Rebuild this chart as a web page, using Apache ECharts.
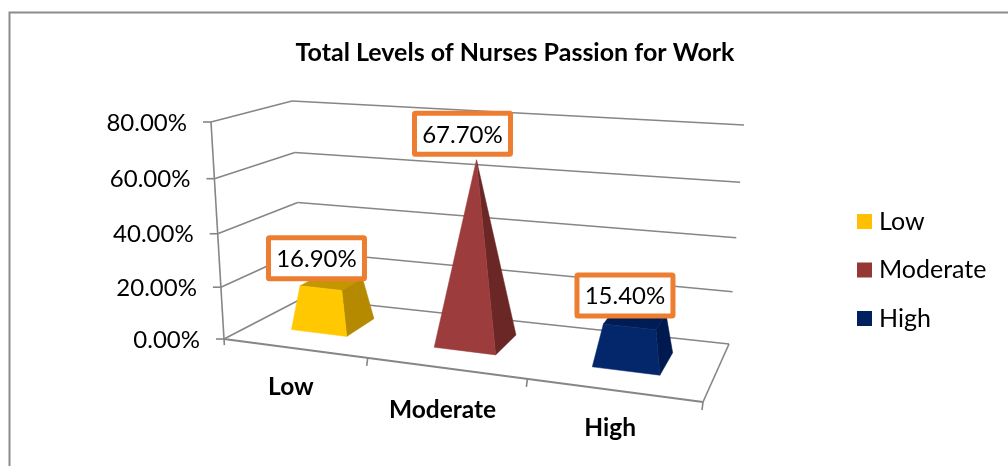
<!DOCTYPE html>
<html>
<head>
<meta charset="utf-8">
<style>
  html, body { margin: 0; padding: 0; background: #fff; }
  #main { width: 1008px; height: 466px; }
</style>
<script src="https://cdn.jsdelivr.net/npm/echarts@6/dist/echarts.min.js"></script>
</head>
<body>
<div id="main"></div>
<script>
const categories = ['Low', 'Moderate', 'High']
const values = [16.9, 67.7, 15.4]
const yTicks = [0, 20, 40, 60, 80]

const fontName = 'Lato'
const gridColor = '#868686'
const faceColors = [
  { legend: '#ffc000', front: '#ffc800', side: '#b58a00', top: '#c49600' },
  { legend: '#953735', front: '#9c3c3c', side: '#6b2626', top: '#7a2c2c' },
  { legend: '#002060', front: '#04266b', side: '#001a4f', top: '#001c55' }
]
// nudges the value label off the top of each shape
const labelShift = [[-15, -24], [-14, -26], [-10, -23.5]]
// how far under the floor edge each category name sits
const nameDrop = [39, 42, 38]

// corners of the tilted floor, and the direction "up" takes at each corner
const floor = { fl: [224, 339], fr: [703, 402], bl: [303, 298], br: [729, 344] }
const up = { fl: [-13, -217], fr: [18, -240], bl: [-11, -197], br: [15, -219] }

function mix(a, b, k) {
  return [a[0] + (b[0] - a[0]) * k, a[1] + (b[1] - a[1]) * k]
}

// t: along the category axis 0..1, d: depth 0..1, h: height 0..1
function project(t, d, h) {
  const u = 0.85 * t + 0.15 * t * t
  const hh = 0.94 * h + 0.06 * h * h
  const base = mix(mix(floor.fl, floor.fr, u), mix(floor.bl, floor.br, u), d)
  const dir = mix(mix(up.fl, up.fr, u), mix(up.bl, up.br, u), d)
  return [base[0] + dir[0] * hh, base[1] + dir[1] * hh]
}

function line(a, b, width) {
  return {
    type: 'line',
    shape: { x1: a[0], y1: a[1], x2: b[0], y2: b[1] },
    style: { stroke: gridColor, lineWidth: width || 1.6 }
  }
}

function label(text, p, size, weight, align) {
  return {
    type: 'text',
    style: {
      text: text,
      x: p[0],
      y: p[1],
      align: align || 'center',
      verticalAlign: 'middle',
      fill: '#000',
      font: (weight || 'normal') + ' ' + size + 'px ' + fontName
    }
  }
}

function heightOf(params, api, val) {
  const cs = params.coordSys
  return (cs.y + cs.height - api.coord([0, val])[1]) / cs.height
}

function renderWalls(params, api) {
  const val = api.value(1)
  const h = heightOf(params, api, val)
  const front = project(0, 0, h)
  const children = [
    line(front, project(0, 1, h)),
    line([front[0] - 8, front[1]], front),
    label(val.toFixed(2) + '%', [front[0] - 24, front[1] + 1], 24, 'normal', 'right')
  ]
  if (val !== 0) {
    children.push(line(project(0, 1, h), project(1, 1, h)))
  } else {
    children.push(line(project(0, 0, 0), project(0, 0, 1)))
    children.push(line(project(0, 1, 0), project(1, 1, 0)))
    children.push(line(project(0, 0, 0), project(1, 0, 0), 2))
    children.push(line(project(1, 0, 0), project(1, 1, 0)))
    children.push(line(project(0, 0, 0), project(0, 0, -0.03)))
  }
  return { type: 'group', children: children }
}

function renderCategory(params, api) {
  const i = api.value(0)
  const edge = project((i + 1) / 3, 0, 0)
  const mid = project((i + 0.5) / 3, 0, 0)
  return {
    type: 'group',
    children: [
      line(edge, [edge[0] - 1, edge[1] + 8]),
      label(categories[i], [mid[0] - 3, mid[1] + nameDrop[i]], 24.5, 'bold')
    ]
  }
}

// shape is a pyramid cut off at its value: it narrows to a point at the largest value
function renderPyramid(params, api) {
  const i = api.value(0)
  const val = api.value(1)
  const cs = params.coordSys
  const t = (api.coord([i, val])[0] - cs.x) / cs.width
  const h = heightOf(params, api, val)
  const k = 1 - val / Math.max.apply(null, values)
  const wb = 0.0667
  const db = 0.2
  const dm = 0.55
  const c = faceColors[i]
  const face = (pts, fill) => ({
    type: 'polygon',
    shape: { points: pts },
    style: { fill: fill, stroke: fill, lineWidth: 0.5 }
  })
  const b1 = project(t - wb, dm - db, 0)
  const b2 = project(t + wb, dm - db, 0)
  const b3 = project(t + wb, dm + db, 0)
  const t1 = project(t - wb * k, dm - db * k, h)
  const t2 = project(t + wb * k, dm - db * k, h)
  const t3 = project(t + wb * k, dm + db * k, h)
  const t4 = project(t - wb * k, dm + db * k, h)
  const head = project(t, dm, h)
  const at = [head[0] + labelShift[i][0], head[1] + labelShift[i][1]]
  return {
    type: 'group',
    children: [
      face([t1, t2, t3, t4], c.top),
      face([b2, b3, t3, t2], c.side),
      face([b1, b2, t2, t1], c.front),
      {
        type: 'rect',
        shape: { x: at[0] - 48, y: at[1] - 20.5, width: 96, height: 41, r: 1 },
        style: { fill: '#fff', stroke: '#ed7d31', lineWidth: 5 }
      },
      label(val.toFixed(2) + '%', [at[0], at[1] + 1], 24)
    ]
  }
}

const myChart = echarts.init(document.getElementById('main'))

const option = {
  backgroundColor: '#fff',
  animation: false,
  title: {
    text: 'Total Levels of Nurses Passion for Work',
    left: 510,
    top: 35,
    textAlign: 'center',
    textStyle: { fontFamily: fontName, fontWeight: 'bold', fontSize: 25, color: '#000' }
  },
  legend: {
    orient: 'vertical',
    left: 852,
    top: 204,
    itemWidth: 15,
    itemHeight: 15,
    itemGap: 23.5,
    icon: 'rect',
    data: categories,
    selectedMode: false,
    textStyle: { fontFamily: fontName, fontSize: 25, color: '#000', height: 25, lineHeight: 25, padding: [0, 0, 0, 2] }
  },
  grid: { left: 224, right: 305, top: 122, bottom: 127 },
  xAxis: { type: 'category', data: categories, show: false },
  yAxis: { type: 'value', min: 0, max: 80, interval: 20, show: false },
  graphic: [
    {
      type: 'polyline',
      shape: { points: [[9.5, 466], [9.5, 12.5], [1008, 12.5]] },
      style: { fill: 'none', stroke: '#8c8c8c', lineWidth: 2 },
      silent: true
    }
  ],
  series: [
    {
      type: 'custom',
      name: 'walls',
      z: 1,
      silent: true,
      renderItem: renderWalls,
      data: yTicks.map((v) => [0, v])
    },
    {
      type: 'custom',
      name: 'axis',
      z: 1,
      silent: true,
      renderItem: renderCategory,
      data: categories.map((c, i) => [i, 0])
    }
  ].concat(categories.map((c, i) => ({
    type: 'custom',
    name: c,
    z: 2 + i,
    itemStyle: { color: faceColors[i].legend },
    renderItem: renderPyramid,
    data: [[i, values[i]]]
  })))
}

myChart.setOption(option)
window.addEventListener('resize', function () {
  myChart.resize()
})
</script>
</body>
</html>
